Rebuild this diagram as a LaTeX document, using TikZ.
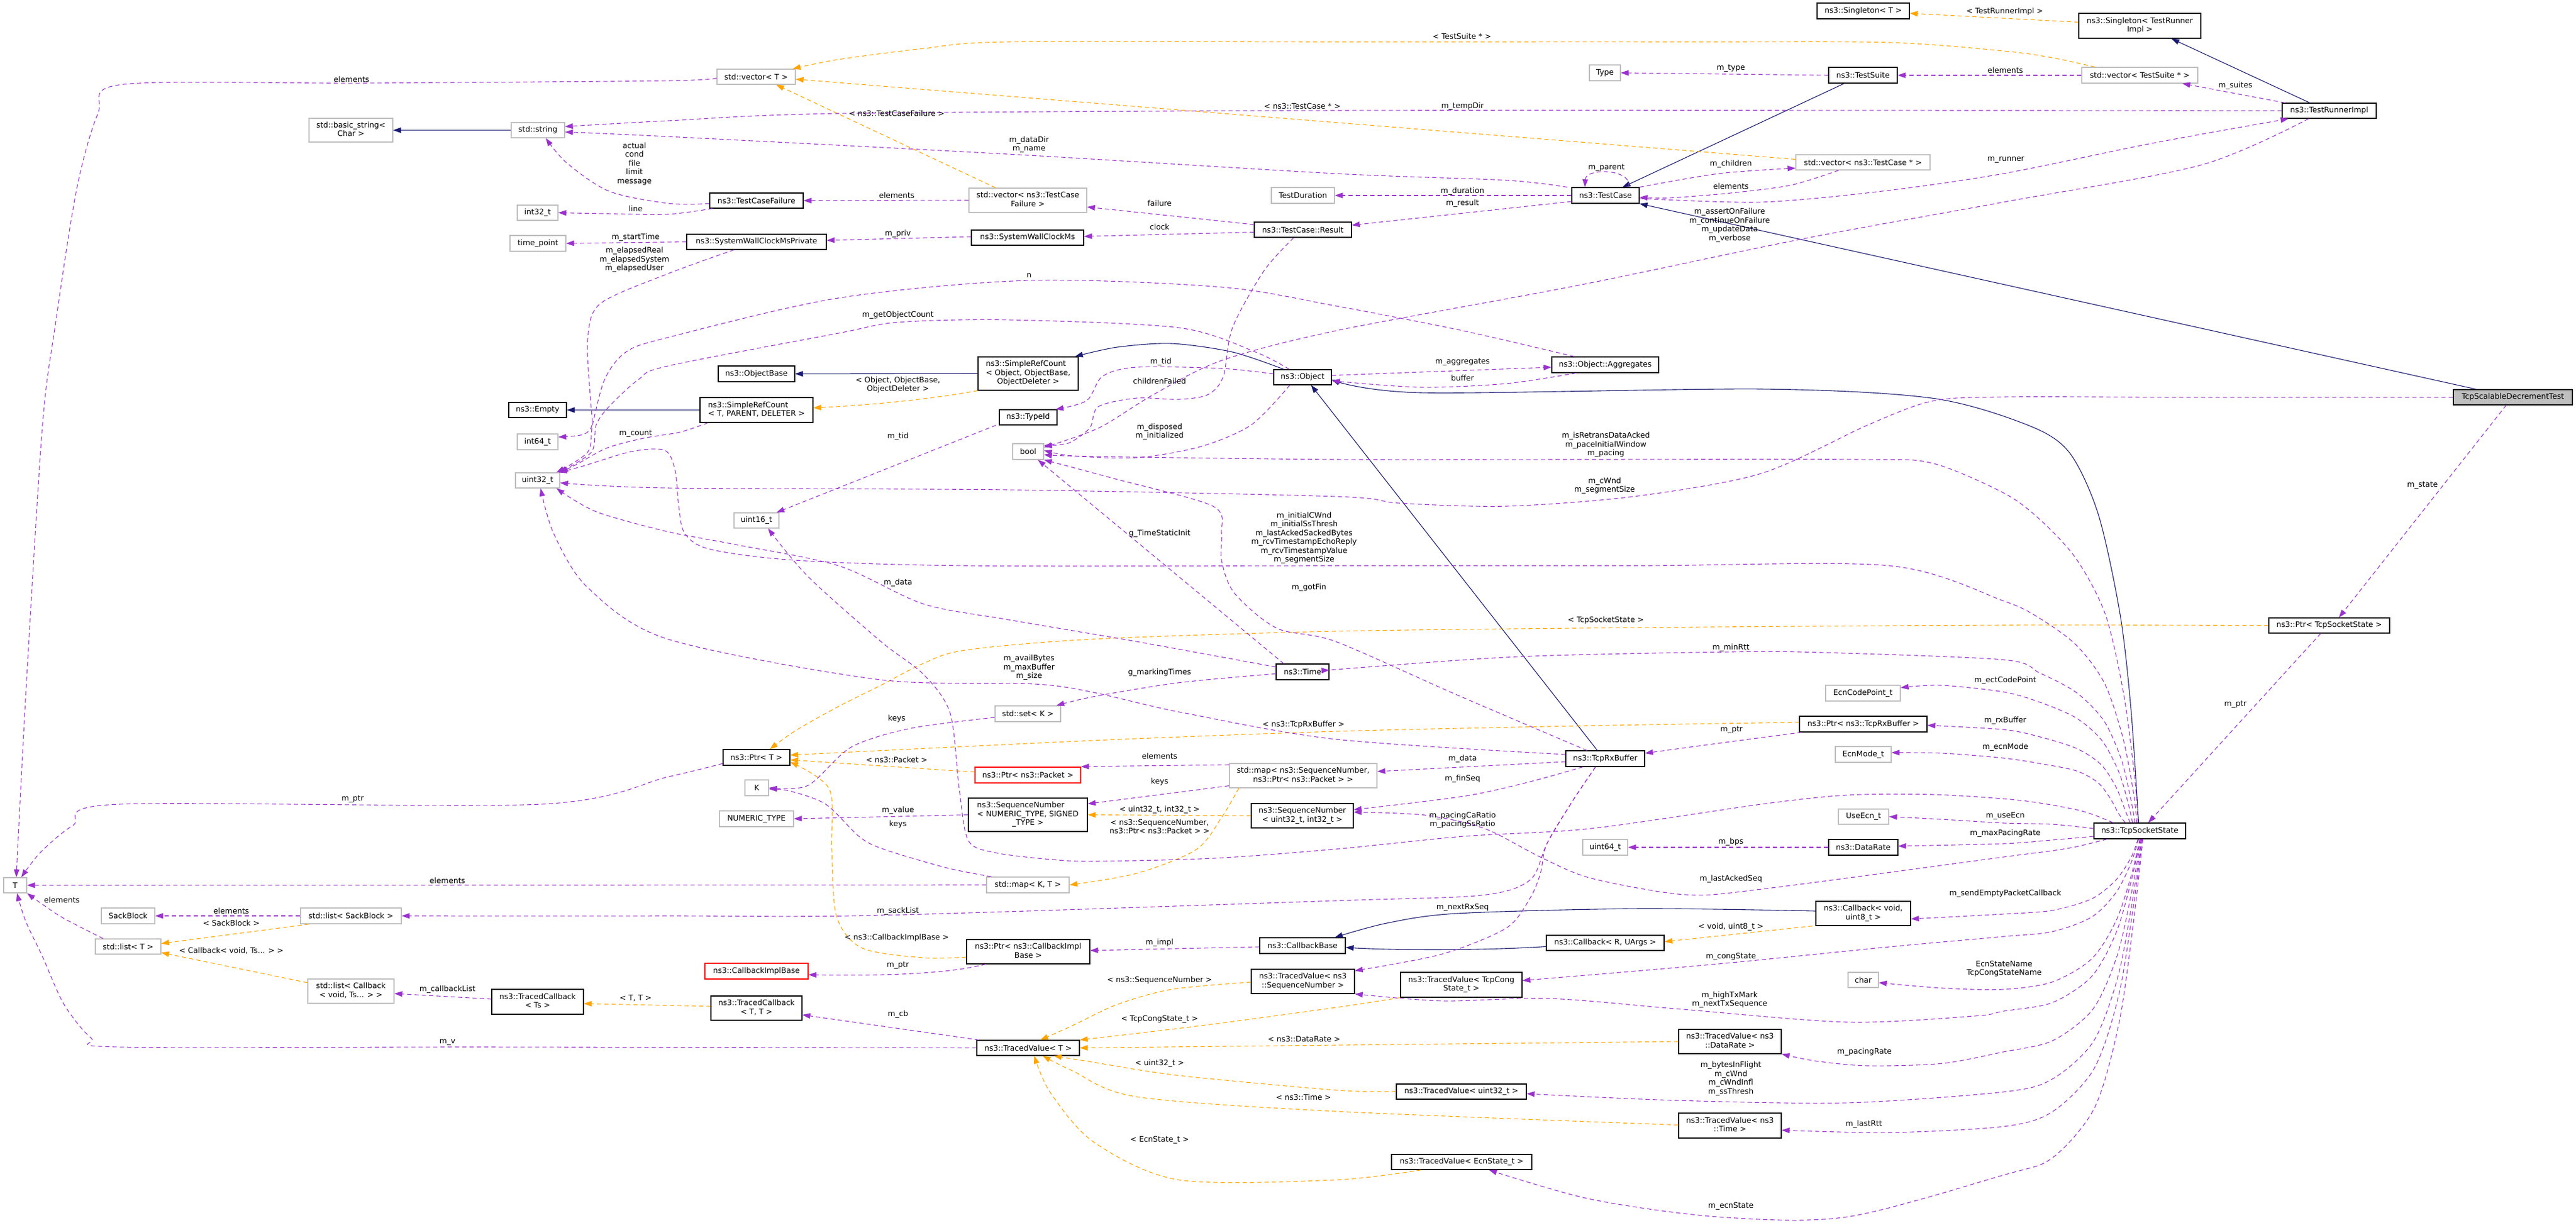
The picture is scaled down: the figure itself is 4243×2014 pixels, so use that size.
\documentclass[tikz,border=0pt]{standalone}
\usepackage{fontspec}
\setmainfont{DejaVu Sans}
\usetikzlibrary{arrows.meta}
\definecolor{grey75}{HTML}{BFBFBF}
\definecolor{usec}{HTML}{9A32CD}
\definecolor{tplc}{HTML}{FFA500}
\definecolor{inhc}{HTML}{191970}
\newcommand\dfont{\fontsize{12.6}{14.5}\selectfont}
\newcommand\twol[2]{\begin{tabular}{@{}l@{}}#1\\\multicolumn{1}{@{}c@{}}{#2}\end{tabular}}
\newcommand\threel[3]{\begin{tabular}{@{}l@{}}#1\\#2\\\multicolumn{1}{@{}c@{}}{#3}\end{tabular}}
\begin{document}
\begin{tikzpicture}[x=1pt,y=-1pt,
 box/.style={draw=black,fill=white,line width=1.2pt,inner sep=0pt,font=\dfont},
 gbox/.style={box,draw=grey75},
 rbox/.style={box,draw=red},
 wh/.style 2 args={minimum width=#1pt,minimum height=#2pt},
 lbl/.style={font=\dfont,inner sep=0pt,align=center},
 euse/.style={draw=usec,line width=1.1pt,dash pattern=on 7pt off 5pt,-{Triangle[length=13pt,width=9pt]}},
 etpl/.style={draw=tplc,line width=1.1pt,dash pattern=on 7pt off 5pt,-{Triangle[length=13pt,width=9pt]}},
 einh/.style={draw=inhc,line width=1.1pt,-{Triangle[length=13pt,width=9pt]}},
 sm/.style={smooth,tension=0.5}]
\useasboundingbox (0,0) rectangle (4243,2014);
\fill[white] (0,0) rectangle (4243,2014);
% ---------------- nodes
\node[gbox,wh={129}{25}] (stdvecT) at (1245.5,126.5) {std::vector< T >};
\node[gbox,wh={138}{39}] (basicstr) at (578,214.5) {\twol{std::basic\_string<}{Char >}};
\node[gbox,wh={88}{25}] (stdstring) at (886,214.5) {std::string};
\node[gbox,wh={67}{25}] (int32) at (885.5,350.5) {int32\_t};
\node[gbox,wh={92}{26}] (timepoint) at (886,401) {time\_point};
\node[box,wh={95}{25}] (empty) at (885.5,675.5) {ns3::Empty};
\node[box,wh={154}{25}] (tcfailure) at (1246,330.5) {ns3::TestCaseFailure};
\node[gbox,wh={194}{40}] (vectcf) at (1693,330) {\twol{std::vector< ns3::TestCase}{Failure >}};
\node[gbox,wh={104}{26}] (testduration) at (2146,322) {TestDuration};
\node[box,wh={160}{25}] (result) at (2146,378.5) {ns3::TestCase::Result};
\node[box,wh={230}{25}] (swcmp) at (1246,398.5) {ns3::SystemWallClockMsPrivate};
\node[box,wh={185}{25}] (swcm) at (1692.5,391.5) {ns3::SystemWallClockMs};
\node[box,wh={165}{55}] (srcObj) at (1693.5,615.5) {\threel{ns3::SimpleRefCount}{< Object, ObjectBase,}{ObjectDeleter >}};
\node[box,wh={126}{26}] (objbase) at (1246,616) {ns3::ObjectBase};
\node[box,wh={186}{41}] (srcT) at (1246,675.5) {\twol{ns3::SimpleRefCount}{< T, PARENT, DELETER >}};
\node[box,wh={95}{25}] (object) at (2145.5,621.5) {ns3::Object};
\node[box,wh={95}{25}] (typeid) at (1693.5,687.5) {ns3::TypeId};
\node[box,wh={152}{26}] (singT) at (3069,18) {ns3::Singleton< T >};
\node[gbox,wh={51}{26}] (type) at (2643.5,120) {Type};
\node[box,wh={113}{26}] (testsuite) at (3068.5,124) {ns3::TestSuite};
\node[gbox,wh={221}{25}] (vectc) at (3068.5,267.5) {std::vector< ns3::TestCase * >};
\node[box,wh={111}{26}] (testcase) at (2644.5,322) {ns3::TestCase};
\node[box,wh={176}{26}] (aggregates) at (2644,601) {ns3::Object::Aggregates};
\node[box,wh={201}{41}] (singTRI) at (3524.5,42.5) {\twol{ns3::Singleton< TestRunner}{Impl >}};
\node[gbox,wh={191}{26}] (vects) at (3524.5,124) {std::vector< TestSuite * >};
\node[box,wh={155}{25}] (tri) at (3836.5,182.5) {ns3::TestRunnerImpl};
\node[box,fill=grey75,wh={196}{25}] (main) at (4139,654.5) {TcpScalableDecrementTest};
\node[gbox,wh={67}{26}] (int64) at (885.5,728) {int64\_t};
\node[gbox,wh={73}{25}] (uint32) at (885.5,791.5) {uint32\_t};
\node[gbox,wh={51}{26}] (bool) at (1693.5,744) {bool};
\node[gbox,wh={74}{25}] (uint16) at (1246,857.5) {uint16\_t};
\node[box,wh={87}{26}] (time) at (2145.5,1107) {ns3::Time};
\node[gbox,wh={108}{26}] (setK) at (1693,1176) {std::set< K >};
\node[box,wh={110}{26}] (ptrT) at (1246,1248) {ns3::Ptr< T >};
\node[rbox,wh={174}{26}] (ptrPacket) at (1693,1277) {ns3::Ptr< ns3::Packet >};
\node[gbox,wh={243}{40}] (mapSeq) at (2146.5,1278) {\twol{std::map< ns3::SequenceNumber,}{ns3::Ptr< ns3::Packet > >}};
\node[gbox,wh={39}{26}] (K) at (1246.5,1298) {K};
\node[gbox,wh={122}{26}] (numtype) at (1246,1349) {NUMERIC\_TYPE};
\node[box,wh={196}{55}] (seqNS) at (1693,1342.5) {\threel{ns3::SequenceNumber}{< NUMERIC\_TYPE, SIGNED}{\_TYPE >}};
\node[box,wh={168}{40}] (seqU32) at (2145,1344) {\twol{ns3::SequenceNumber}{< uint32\_t, int32\_t >}};
\node[gbox,wh={136}{26}] (stdmapKT) at (1693,1458) {std::map< K, T >};
\node[box,wh={203}{40}] (ptrCIB) at (1693.5,1568) {\twol{ns3::Ptr< ns3::CallbackImpl}{Base >}};
\node[box,wh={141}{26}] (cbbase) at (2145.5,1558) {ns3::CallbackBase};
\node[rbox,wh={170}{26}] (cib) at (1246,1600) {ns3::CallbackImplBase};
\node[box,wh={170}{40}] (tvSeq) at (2146,1617) {\twol{ns3::TracedValue< ns3}{::SequenceNumber >}};
\node[box,wh={150}{40}] (tcTT) at (1246,1661) {\twol{ns3::TracedCallback}{< T, T >}};
\node[box,wh={169}{25}] (tvT) at (1693.5,1726.5) {ns3::TracedValue< T >};
\node[gbox,wh={38}{25}] (T) at (25,1458.5) {T};
\node[gbox,wh={88}{26}] (sackblock) at (211,1509) {SackBlock};
\node[gbox,wh={166}{26}] (listSack) at (578,1509) {std::list< SackBlock >};
\node[gbox,wh={108}{25}] (listT) at (211,1559.5) {std::list< T >};
\node[gbox,wh={142}{40}] (listCb) at (578,1633) {\twol{std::list< Callback}{< void, Ts... > >}};
\node[box,wh={151}{41}] (tcTs) at (885.5,1650.5) {\twol{ns3::TracedCallback}{< Ts >}};
\node[gbox,wh={123}{26}] (ecncp) at (3068.5,1142) {EcnCodePoint\_t};
\node[box,wh={210}{26}] (ptrRx) at (3069,1193) {ns3::Ptr< ns3::TcpRxBuffer >};
\node[box,wh={130}{26}] (rxbuf) at (2644,1250) {ns3::TcpRxBuffer};
\node[gbox,wh={92}{26}] (ecnmode) at (3069,1243) {EcnMode\_t};
\node[gbox,wh={83}{25}] (useecn) at (3069.5,1345.5) {UseEcn\_t};
\node[gbox,wh={74}{26}] (uint64) at (2644,1396) {uint64\_t};
\node[box,wh={114}{26}] (datarate) at (3069,1396) {ns3::DataRate};
\node[box,wh={199}{25}] (ptrTSS) at (3836.5,1030.5) {ns3::Ptr< TcpSocketState >};
\node[box,wh={151}{26}] (tss) at (3524.5,1369) {ns3::TcpSocketState};
\node[box,wh={156}{40}] (cbVoid) at (3069,1505) {\twol{ns3::Callback< void,}{uint8\_t >}};
\node[box,wh={194}{25}] (cbRU) at (2644,1553.5) {ns3::Callback< R, UArgs >};
\node[gbox,wh={50}{25}] (char) at (3069,1614.5) {char};
\node[box,wh={200}{41}] (tvCong) at (2407,1622.5) {\twol{ns3::TracedValue< TcpCong}{State\_t >}};
\node[box,wh={169}{40}] (tvDR) at (2849.5,1716) {\twol{ns3::TracedValue< ns3}{::DataRate >}};
\node[box,wh={214}{25}] (tvU32) at (2407,1798.5) {ns3::TracedValue< uint32\_t >};
\node[box,wh={169}{41}] (tvTime) at (2849.5,1854.5) {\twol{ns3::TracedValue< ns3}{::Time >}};
\node[box,wh={231}{25}] (tvEcn) at (2407.5,1914.5) {ns3::TracedValue< EcnState\_t >};
% ---------------- inheritance
\draw[einh] (stdstring) -- (basicstr);
\draw[einh] (srcT) -- (empty);
\draw[einh] (srcObj.west) -- (objbase);
\draw[einh] plot[sm] coordinates {([xshift=-31]object.north) (2030,580) (1930,566) (1840,572) ([xshift=-6]srcObj.north east)};
\draw[einh] ([xshift=-31]testsuite.south) -- ([xshift=28]testcase.north);
\draw[einh] ([xshift=-32]tri.north) -- ([xshift=52]singTRI.south);
\draw[einh] ([xshift=-60]main.north) -- (testcase.south east);
\draw[einh] ([xshift=-13]rxbuf.north) -- ([xshift=14]object.south);
\draw[einh] plot[sm] coordinates {([xshift=-2]tss.north) (3510,1169) (3492,1012) (3456,847) (3408,745) (3339,700) (3182,656) (2901,641) (2340,647) ([yshift=-4]object.east)};
\draw[einh] plot[sm] coordinates {([yshift=4]cbVoid.west) (2700,1497) (2400,1505) (2284,1521) ([xshift=-18]cbbase.north east)};
\draw[einh] ([yshift=-6]cbRU.west) .. controls (2450,1566) and (2300,1566) .. ([yshift=-3]cbbase.east);
% ---------------- template instances
\draw[etpl] ([xshift=-53]vectcf.north) -- ([xshift=33]stdvecT.south);
\draw[etpl] ([yshift=5]vectc.west) -- ([yshift=-4]stdvecT.east);
\draw[etpl] plot[sm] coordinates {([xshift=-74]vects.north) (3380,95) (3300,84) (3112,70) (2800,69) (2200,69) (1661,69) (1521,80) (1381,98) ([xshift=-5]stdvecT.north east)};
\draw[etpl] ([yshift=6]singTRI.west) -- ([yshift=-4]singT.east);
\draw[etpl] (srcObj.south west) .. controls (1520,660) and (1420,668) .. ([yshift=3.5]srcT.east);
\draw[etpl] plot[sm] coordinates {(ptrTSS.west) (3300,1030) (2700,1034) (2200,1040) (1801,1053) (1591,1071) (1521,1093) (1451,1129) (1381,1164) (1310,1204) ([xshift=22]ptrT.north)};
\draw[etpl] plot[sm] coordinates {([yshift=3]ptrRx.west) (2600,1196) (2200,1205) (1801,1220) ([yshift=4]ptrT.east)};
\draw[etpl] ([yshift=5]ptrPacket.west) -- ([yshift=-4]ptrT.east);
\draw[etpl] plot[sm] coordinates {([yshift=-9]ptrCIB.west) (1521,1578) (1420,1562) (1378,1510) (1370,1400) (1366,1300) ([yshift=6]ptrT.south east)};
\draw[etpl] (seqU32.west) -- (seqNS.east);
\draw[etpl] plot[sm] coordinates {([xshift=-106]mapSeq.south) (2012,1347) (1970,1400) (1872,1439) (stdmapKT.east)};
\draw[etpl] ([xshift=-69]listSack.south) -- ([yshift=5]listT.east);
\draw[etpl] ([yshift=14]listCb.west) -- ([yshift=-10]listT.east);
\draw[etpl] ([yshift=3]tcTT.west) -- ([yshift=-3]tcTs.east);
\draw[etpl] ([xshift=-5]cbVoid.south west) -- ([yshift=2]cbRU.east);
\draw[etpl] plot[sm] coordinates {([yshift=-1]tvSeq.west) (1930,1630) (1840,1655) (1766,1690) ([xshift=20]tvT.north)};
\draw[etpl] plot[sm] coordinates {(tvCong.south west) (2200,1660) (1977,1690) (tvT.north east)};
\draw[etpl] plot[sm] coordinates {(tvDR.west) (2200,1722) (tvT.east)};
\draw[etpl] plot[sm] coordinates {(tvU32.west) (2200,1796) (1942,1772) (1800,1750) ([xshift=42]tvT.south)};
\draw[etpl] plot[sm] coordinates {([yshift=1]tvTime.west) (2200,1831) (1872,1807) (1766,1764) ([xshift=24]tvT.south)};
\draw[etpl] plot[sm] coordinates {([xshift=-67]tvEcn.south) (2200,1944) (1942,1944) (1802,1882) (1730,1800) ([xshift=10]tvT.south)};
% ---------------- usage
\draw[euse] plot[sm] coordinates {([yshift=-2]stdvecT.west) (1100,133) (600,137) (203,139) (161,188) (126,313) (91,536) (70,700) (45,1100) (30,1380) ([xshift=2]T.north)};
\draw[euse] plot[sm] coordinates {([yshift=-10]ptrT.west) (1100,1280) (891,1325) (196,1325) (120,1360) (67,1404) ([xshift=10]T.north)};
\draw[euse] (stdmapKT.west) -- (T.east);
\draw[euse] plot[sm] coordinates {([xshift=-41]listT.north) (105,1513) (70,1490) (T.south east)};
\draw[euse] plot[sm] coordinates {(tvT.west) (800,1725) (196,1725) (150,1710) (105,1654) (70,1576) (42,1517) ([xshift=3]T.south)};
\draw[euse] (listSack.west) -- (sackblock.east);
\draw[euse] ([yshift=4.5]tcTs.west) -- ([yshift=-4]listCb.east);
\draw[euse] ([xshift=4]tvT.north west) -- ([yshift=-11]tcTT.east);
\draw[euse] ([xshift=-70]ptrCIB.south) .. controls (1560,1605) and (1450,1608) .. ([yshift=-6]cib.east);
\draw[euse] ([yshift=-2]cbbase.west) -- ([yshift=2]ptrCIB.east);
\draw[euse] plot[sm] coordinates {([xshift=-16]rxbuf.south) (2590,1320) (2548,1390) (2520,1450) (2440,1475) (2200,1484) (1451,1508) (1100,1509) (listSack.east)};
\draw[euse] plot[sm] coordinates {([xshift=-54]tss.south) (3420,1395) (3378,1402) (3300,1412) (2901,1465) (2775,1474) (2621,1447) (2537,1412) (2445,1365) (2347,1343) ([yshift=6]seqU32.east)};
\draw[euse] plot[sm] coordinates {([xshift=-37]rxbuf.south) (2516,1289) (2410,1312) ([yshift=10]seqU32.east)};
\draw[euse] ([yshift=-5]rxbuf.west) -- ([yshift=7]mapSeq.east);
\draw[euse] plot[sm] coordinates {([yshift=7]rxbuf.west) (2200,1218) (1942,1173) (1731,1129) (1451,1120) (1100,1053) (968,968) (912,879) ([xshift=5]uint32.south)};
\draw[euse] plot[sm] coordinates {([xshift=-30]rxbuf.north) (2400,1145) (2200,1057) (2103,1035) (2033,977) (2012,923) (2012,879) (1998,834) (1837,789) (bool.south east)};
\draw[euse] plot[sm] coordinates {([xshift=-16]rxbuf.south) (2590,1320) (2548,1390) (2537,1440) (2520,1480) (2481,1529) (2375,1572) ([yshift=-3]tvSeq.north east)};
% tss upper edges
\draw[euse] plot[sm] coordinates {([xshift=-3]tss.north) (3516,1280) (3498,1144) (3468,1013) (3420,921) (3360,856) (3300,812) (3182,763) (3063,757) (2600,757) (2200,757) (1800,752) ([yshift=-5]bool.east)};
\draw[euse] plot[sm] coordinates {([xshift=-5]tss.north) (3514,1305) (3496,1213) (3466,1125) (3420,1063) (3360,1019) (3300,990) (3112,932) (2700,932) (2200,932) (1591,932) (1310,923) (1170,905) (1128,879) (1118,834) (1112,775) (1095,742) (1040,744) (960,768) ([xshift=-2]uint32.north east)};
\draw[euse] plot[sm] coordinates {([xshift=-8]tss.north) (3510,1318) (3494,1251) (3465,1187) (3420,1141) (3360,1109) (3300,1087) (3000,1075) (2851,1074) (2500,1082) (2200,1103) ([yshift=3]time.east)};
\draw[euse] plot[sm] coordinates {([xshift=-12]tss.north) (3506,1326) (3490,1272) (3462,1220) (3420,1183) (3360,1157) (3300,1140) (3196,1129) ([yshift=9]ecncp.east)};
\draw[euse] plot[sm] coordinates {([xshift=-16]tss.north) (3500,1334) (3485,1296) (3460,1259) (3420,1233) (3360,1214) (3300,1202) ([yshift=-2]ptrRx.east)};
\draw[euse] plot[sm] coordinates {([xshift=-24]tss.north) (3490,1341) (3475,1314) (3455,1289) (3420,1270) (3360,1258) (3300,1249) (3200,1241) ([yshift=3]ecnmode.east)};
\draw[euse] plot[sm] coordinates {([xshift=-44]tss.north) (3450,1343) (3420,1334) (3360,1323) (3300,1316) (3182,1309) (3042,1310) (2901,1325) (2621,1365) (2410,1378) (2200,1399) (2000,1414) (1802,1419) (1731,1416) (1640,1405) (1595,1385) (1580,1300) (1565,1175) (1521,1111) (1451,1057) (1331,950) ([xshift=19]uint16.south)};
% tss side edges
\draw[euse] plot[sm] coordinates {([yshift=4]tss.west) (3380,1358) (3300,1356) (3200,1350) (useecn.east)};
\draw[euse] plot[sm] coordinates {([yshift=-9]tss.west) (3380,1384) (3300,1390) ([yshift=2]datarate.east)};
\draw[euse] (datarate.west) -- (uint64.east);
% tss lower edges
\draw[euse] plot[sm] coordinates {([xshift=-3]tss.south) (3510,1413) (3485,1450) (3445,1481) (3380,1500) (3300,1506) ([yshift=-9]cbVoid.east)};
\draw[euse] plot[sm] coordinates {([xshift=-2]tss.south) (3510,1422) (3485,1471) (3445,1511) (3380,1535) (3300,1543) (3112,1560) (2831,1588) ([yshift=7]tvCong.east)};
\draw[euse] plot[sm] coordinates {(tss.south) (3510,1444) (3485,1518) (3445,1580) (3380,1618) (3300,1630) (3200,1628) ([yshift=-4.5]char.east)};
\draw[euse] plot[sm] coordinates {([xshift=1]tss.south) (3510,1453) (3485,1538) (3445,1609) (3380,1652) (3300,1666) (3252,1674) (3042,1684) (2761,1662) (2551,1645) (2375,1649) (tvSeq.south east)};
\draw[euse] plot[sm] coordinates {([xshift=2]tss.south) (3511,1470) (3487,1575) (3447,1663) (3380,1715) (3300,1733) (3200,1752) (3077,1756) (2990,1748) (tvDR.south east)};
\draw[euse] plot[sm] coordinates {([xshift=3]tss.south) (3512,1486) (3488,1611) (3448,1716) (3380,1778) (3300,1799) (3042,1817) (2761,1813) ([yshift=-3.5]tvU32.east)};
\draw[euse] plot[sm] coordinates {([xshift=4]tss.south) (3513,1500) (3489,1643) (3449,1761) (3380,1832) (3300,1856) (3112,1866) ([yshift=-7.5]tvTime.east)};
\draw[euse] plot[sm] coordinates {([xshift=5]tss.south) (3514,1520) (3490,1687) (3450,1825) (3380,1908) (3300,1936) (3042,2005) (2831,2005) (2621,1976) ([xshift=45]tvEcn.south)};
% main and pointers
\draw[euse] plot[sm] coordinates {(main.west) (3600,654.5) (3300,654) (3182,661) (3077,700) (2901,780) (2691,818) (2481,834) (2305,829) (2200,818) (1661,807) (1100,804) ([yshift=-4]uint32.east)};
\draw[euse] ([xshift=-11]main.south) -- ([xshift=16]ptrTSS.north);
\draw[euse] ([xshift=-14]ptrTSS.south) -- ([xshift=14]tss.north);
\draw[euse] plot[sm] coordinates {([xshift=4]ptrRx.south west) (2850,1222) ([yshift=9]rxbuf.east)};
% time
\draw[euse] plot[sm] coordinates {([yshift=-3]time.west) (1940,1125) (1800,1148) ([xshift=47]setK.north)};
\draw[euse] ([xshift=-31]time.north) -- ([xshift=16]bool.south);
\draw[euse] plot[sm] coordinates {([yshift=8]time.west) (1872,1057) (1661,1021) (1521,995) (1381,932) (1205,896) (1100,876) (982,843) ([xshift=-6]uint32.south east)};
% keys etc
\draw[euse] plot[sm] coordinates {([yshift=-6]setK.west) (1500,1200) (1402,1231) (1331,1294) (K.east)};
\draw[euse] plot[sm] coordinates {([xshift=-60]stdmapKT.north) (1560,1430) (1458,1400) (1416,1379) (1360,1325) (1300,1303) ([yshift=-2]K.east)};
\draw[euse] ([yshift=4]mapSeq.south west) -- ([yshift=-10]seqNS.north east);
\draw[euse] ([yshift=18]mapSeq.west) -- ([yshift=14]ptrPacket.east);
\draw[euse] (seqNS.west) -- (numtype.east);
\draw[euse] ([xshift=-53]typeid.south) -- ([xshift=33]uint16.north);
\draw[euse] plot[sm] coordinates {([yshift=5.5]object.west) (2012,607) (1872,605) (1816,620) (1790,660) ([xshift=-3]typeid.north east)};
\draw[euse] ([yshift=3]object.east) -- ([yshift=-4]aggregates.west);
\draw[euse] plot[sm] coordinates {([xshift=-48]aggregates.south) (2481,632) (2340,638) ([yshift=-6]object.east)};
\draw[euse] plot[sm] coordinates {([xshift=-51]aggregates.north) (2410,545) (2200,504) (2012,473) (1695,462) (1381,491) (1100,556) (1031,580) (996,625) (976,700) (968,745) ([xshift=-6]uint32.north east)};
\draw[euse] plot[sm] coordinates {([xshift=-22]object.north) (2068,580) (1942,540) (1661,527) (1479,531) (1381,549) (1100,603) (1052,625) (1003,670) (982,700) (974,745) ([xshift=-2]uint32.north east)};
\draw[euse] plot[sm] coordinates {([xshift=-37]swcmp.south) (1100,451) (989,500) (968,558) (972,650) (975,700) (960,716) ([yshift=8]int64.east)};
\draw[euse] plot[sm] coordinates {([xshift=-80]srcT.south) (1120,712) (1060,722) (1000,738) (950,765) (uint32.north east)};
% bool
\draw[euse] plot[sm] coordinates {([xshift=-34]tri.south) (3625,272) (3300,333) (2972,393) (2600,470) (2200,545) (2012,594) (1900,650) (1810,705) ([yshift=7]bool.east)};
\draw[euse] plot[sm] coordinates {([xshift=-15]result.south) (2082,446) (2030,540) (2015,620) (1990,650) (1942,658) (1872,656) (1809,670) (1795,705) (1760,730) ([yshift=10]bool.east)};
\draw[euse] plot[sm] coordinates {([xshift=-21]object.south) (2061,700) (1977,736) (1872,754) (1766,751) ([yshift=2]bool.east)};
% test framework
\draw[euse] plot[sm] coordinates {([yshift=-5]testcase.east) (2901,333) (3100,315) (3300,286) (3540,237) ([xshift=-67]tri.south)};
\draw[euse] plot[sm] coordinates {(testcase.north east) (2831,286) ([yshift=-9.5]vectc.west)};
\draw[euse] plot[sm] coordinates {([xshift=-40]vectc.south) (2950,305) (2851,318) (2750,326) ([yshift=-3]testcase.east)};
\draw[euse] ([xshift=38]testcase.north) .. controls (2690,278) and (2612,276) .. ([xshift=-34]testcase.north);
\draw[euse] (testcase.west) -- (testduration.east);
\draw[euse] ([yshift=-10]testcase.west) -- ([yshift=7.5]result.east);
\draw[euse] plot[sm] coordinates {([xshift=-7]testcase.north west) (2481,297) (2200,286) (1661,254) (1100,225) ([yshift=-3]stdstring.east)};
\draw[euse] (testsuite.west) -- (type.east);
\draw[euse] (vects.west) -- (testsuite.east);
\draw[euse] ([xshift=-73]tri.north) -- ([xshift=70]vects.south);
\draw[euse] plot[sm] coordinates {(tri.west) (3300,182) (2200,182) (1381,187) (1100,199) ([yshift=6]stdstring.east)};
\draw[euse] plot[sm] coordinates {([yshift=-5]tcfailure.west) (1100,335) (1003,315) (933,268) ([xshift=13]stdstring.south)};
\draw[euse] plot[sm] coordinates {([xshift=5]tcfailure.south west) (1100,353) (1000,352) (int32.east)};
\draw[euse] (vectcf.west) -- (tcfailure.east);
\draw[euse] ([yshift=8.5]result.west) -- ([yshift=-11]vectcf.east);
\draw[euse] ([yshift=-4]result.west) -- ([yshift=2]swcm.east);
\draw[euse] ([yshift=1.5]swcm.west) -- ([yshift=2.5]swcmp.east);
\draw[euse] (swcmp.west) -- (timepoint.east);
% ---------------- labels
\node[lbl] (l01) at (579,131) {elements};
\node[lbl] (l02) at (1045,270) {actual\\cond\\file\\limit\\message};
\node[lbl] (l03) at (1047,344) {line};
\node[lbl] (l04) at (1047,391) {m\_startTime};
\node[lbl] (l05) at (1045,428) {m\_elapsedReal\\m\_elapsedSystem\\m\_elapsedUser};
\node[lbl] (l06) at (1047,715) {m\_count};
\node[lbl] (l07) at (1477,187) {< ns3::TestCaseFailure >};
\node[lbl] (l08) at (2145,175) {< ns3::TestCase * >};
\node[lbl] (l09) at (1695,238) {m\_dataDir\\m\_name};
\node[lbl] (l10) at (1477,322) {elements};
\node[lbl] (l11) at (1910,335) {failure};
\node[lbl] (l12) at (1910,374) {clock};
\node[lbl] (l13) at (1479,385) {m\_priv};
\node[lbl] (l14) at (1695,454) {n};
\node[lbl] (l15) at (1479,519) {m\_getObjectCount};
\node[lbl] (l16) at (1479,634) {< Object, ObjectBase,\\ObjectDeleter >};
\node[lbl] (l17) at (1912,596) {m\_tid};
\node[lbl] (l18) at (1910,628) {childrenFailed};
\node[lbl] (l19) at (3302,19) {< TestRunnerImpl >};
\node[lbl] (l20) at (2408,60) {< TestSuite * >};
\node[lbl] (l21) at (2851,113) {m\_type};
\node[lbl] (l22) at (3303,116) {elements};
\node[lbl] (l23) at (2409,175) {m\_tempDir};
\node[lbl] (l24) at (2851,270) {m\_children};
\node[lbl] (l25) at (2646,277) {m\_parent};
\node[lbl] (l26) at (2851,307) {elements};
\node[lbl] (l27) at (2409,315) {m\_duration};
\node[lbl] (l28) at (2409,335) {m\_result};
\node[lbl] (l29) at (2849,371) {m\_assertOnFailure\\m\_continueOnFailure\\m\_updateData\\m\_verbose};
\node[lbl] (l30) at (3304,263) {m\_runner};
\node[lbl] (l31) at (3682,141) {m\_suites};
\node[lbl] (l32) at (2409,597) {m\_aggregates};
\node[lbl] (l33) at (2409,623) {buffer};
\node[lbl] (l34) at (1910,711) {m\_disposed\\m\_initialized};
\node[lbl] (l35) at (1479,719) {m\_tid};
\node[lbl] (l36) at (1910,879) {g\_TimeStaticInit};
\node[lbl] (l37) at (2148,886) {m\_initialCWnd\\m\_initialSsThresh\\m\_lastAckedSackedBytes\\m\_rcvTimestampEchoReply\\m\_rcvTimestampValue\\m\_segmentSize};
\node[lbl] (l38) at (1479,960) {m\_data};
\node[lbl] (l39) at (2156,968) {m\_gotFin};
\node[lbl] (l40) at (1695,1100) {m\_availBytes\\m\_maxBuffer\\m\_size};
\node[lbl] (l41) at (1910,1108) {g\_markingTimes};
\node[lbl] (l42) at (1477,1184) {keys};
\node[lbl] (l43) at (2147,1194) {< ns3::TcpRxBuffer >};
\node[lbl] (l44) at (1477,1252) {< ns3::Packet >};
\node[lbl] (l45) at (1910,1246) {elements};
\node[lbl] (l46) at (1910,1288) {keys};
\node[lbl] (l47) at (1479,1335) {m\_value};
\node[lbl] (l48) at (1479,1358) {keys};
\node[lbl] (l49) at (1910,1334) {< uint32\_t, int32\_t >};
\node[lbl] (l50) at (1910,1362) {< ns3::SequenceNumber,\\ns3::Ptr< ns3::Packet > >};
\node[lbl] (l51) at (2645,733) {m\_isRetransDataAcked\\m\_paceInitialWindow\\m\_pacing};
\node[lbl] (l52) at (2643,800) {m\_cWnd\\m\_segmentSize};
\node[lbl] (l53) at (2645,1022) {< TcpSocketState >};
\node[lbl] (l54) at (2851,1067) {m\_minRtt};
\node[lbl] (l55) at (3303,1121) {m\_ectCodePoint};
\node[lbl] (l56) at (3303,1187) {m\_rxBuffer};
\node[lbl] (l57) at (2852,1203) {m\_ptr};
\node[lbl] (l58) at (3303,1231) {m\_ecnMode};
\node[lbl] (l59) at (2409,1250) {m\_data};
\node[lbl] (l60) at (2409,1283) {m\_finSeq};
\node[lbl] (l61) at (2409,1351) {m\_pacingCaRatio\\m\_pacingSsRatio};
\node[lbl] (l62) at (3303,1344) {m\_useEcn};
\node[lbl] (l63) at (3303,1373) {m\_maxPacingRate};
\node[lbl] (l64) at (2851,1387) {m\_bps};
\node[lbl] (l65) at (3990,800) {m\_state};
\node[lbl] (l66) at (3682,1161) {m\_ptr};
\node[lbl] (l67) at (737,1451) {elements};
\node[lbl] (l68) at (102,1483) {elements};
\node[lbl] (l69) at (381,1501) {elements};
\node[lbl] (l70) at (381,1521) {< SackBlock >};
\node[lbl] (l71) at (381,1566) {< Callback< void, Ts... > >};
\node[lbl] (l72) at (737,1630) {m\_callbackList};
\node[lbl] (l73) at (1047,1645) {< T, T >};
\node[lbl] (l74) at (737,1717) {m\_v};
\node[lbl] (l75) at (581,1317) {m\_ptr};
\node[lbl] (l76) at (1479,1501) {m\_sackList};
\node[lbl] (l77) at (1477,1545) {< ns3::CallbackImplBase >};
\node[lbl] (l78) at (1910,1553) {m\_impl};
\node[lbl] (l79) at (1479,1591) {m\_ptr};
\node[lbl] (l80) at (1910,1615) {< ns3::SequenceNumber >};
\node[lbl] (l81) at (1479,1671) {m\_cb};
\node[lbl] (l82) at (1910,1679) {< TcpCongState\_t >};
\node[lbl] (l83) at (2148,1712) {< ns3::DataRate >};
\node[lbl] (l84) at (1910,1752) {< uint32\_t >};
\node[lbl] (l85) at (2147,1808) {< ns3::Time >};
\node[lbl] (l86) at (1910,1878) {< EcnState\_t >};
\node[lbl] (l87) at (2851,1448) {m\_lastAckedSeq};
\node[lbl] (l88) at (3303,1472) {m\_sendEmptyPacketCallback};
\node[lbl] (l89) at (2409,1495) {m\_nextRxSeq};
\node[lbl] (l90) at (2851,1527) {< void, uint8\_t >};
\node[lbl] (l91) at (2851,1576) {m\_congState};
\node[lbl] (l92) at (3301,1596) {EcnStateName\\TcpCongStateName};
\node[lbl] (l93) at (2849,1647) {m\_highTxMark\\m\_nextTxSequence};
\node[lbl] (l94) at (3071,1733) {m\_pacingRate};
\node[lbl] (l95) at (2851,1777) {m\_bytesInFlight\\m\_cWnd\\m\_cWndInfl\\m\_ssThresh};
\node[lbl] (l96) at (3070,1852) {m\_lastRtt};
\node[lbl] (l97) at (2851,1987) {m\_ecnState};
\end{tikzpicture}
\end{document}
